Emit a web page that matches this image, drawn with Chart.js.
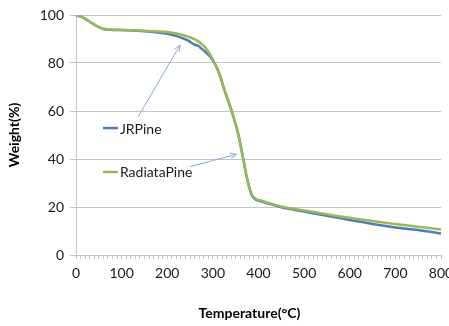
<!DOCTYPE html>
<html>
<head>
<meta charset="utf-8">
<title>TGA curves</title>
<script src="https://cdn.jsdelivr.net/npm/chart.js@4/dist/chart.umd.min.js"></script>
<style>
    html, body { margin: 0; padding: 0; background: #fff; }
    #wrap { position: relative; width: 449px; height: 326px; }
</style>
</head>
<body>
<div id="wrap"><canvas id="tgaChart" width="449" height="326"></canvas></div>
<script>
// ===== TGA weight loss: JR pine vs radiata pine =====

const temperatures = [0, 10, 20, 30, 40, 50, 60, 70, 80, 100, 125, 150, 175, 200, 215, 230, 245, 260, 268, 275,
    283, 294, 305, 315, 323, 332, 341, 349, 356, 365, 374, 380, 385, 390, 395, 405, 420, 450, 500, 550, 600, 650,
    700, 750, 800];

const jrPine = [100, 99.3, 98.4, 97.2, 96.0, 94.9, 94.2, 93.9, 93.8, 93.7, 93.5, 93.2, 92.8, 92.2, 91.5, 90.6, 89.4,
    87.6, 87.2, 86.0, 84.7, 82.6, 79.4, 75.0, 70.1, 65.0, 60.0, 55.0, 50.0, 41.5, 32.6, 28.0, 25.0, 23.7, 23.0, 22.4,
    21.5, 19.9, 18.1, 16.3, 14.6, 12.9, 11.5, 10.4, 9.0];

const radiataPine = [100, 99.4, 98.5, 97.3, 96.1, 95.0, 94.3, 94.0, 93.9, 93.8, 93.6, 93.4, 93.2, 92.9, 92.5, 91.9,
    91.0, 89.9, 89.0, 88.0, 86.5, 83.5, 79.6, 75.3, 70.3, 65.2, 60.2, 55.2, 50.2, 41.6, 32.8, 28.2, 25.3, 24.0, 23.3,
    22.7, 21.8, 20.2, 18.6, 17.0, 15.5, 14.2, 12.9, 11.8, 10.6];

const seriesNames = ['JRPine', 'RadiataPine'];
const seriesColors = ['#4a7ebb', '#98b954'];

const xTickLabels = [0, 100, 200, 300, 400, 500, 600, 700, 800];
const yTickLabels = [0, 20, 40, 60, 80, 100];

// Legend anchors and callout arrows, in data units (temperature, weight)
const legendAnchors = [[59, 52.9], [59, 34.6]];
const calloutArrows = [
    [[136, 57.5], [228, 87.5]],
    [[250, 36.8], [352, 42.0]]
];

const FONT = 'Lato, "Liberation Sans", sans-serif';
const GRID = '#c4c4c4';

function toPoints(xs, ys) {
    return xs.map((x, i) => ({ x: x, y: ys[i] }));
}

// Draws the in-plot legend, the callout arrows and both axis titles
const calloutPlugin = {
    id: 'callouts',
    afterDraw(chart) {
        const ctx = chart.ctx;
        const xs = chart.scales.x;
        const ys = chart.scales.y;
        const area = chart.chartArea;

        ctx.save();

        // arrows
        ctx.strokeStyle = '#86a8d8';
        ctx.lineWidth = 1;
        calloutArrows.forEach(([from, to]) => {
            const x1 = xs.getPixelForValue(from[0]);
            const y1 = ys.getPixelForValue(from[1]);
            const x2 = xs.getPixelForValue(to[0]);
            const y2 = ys.getPixelForValue(to[1]);
            const ang = Math.atan2(y2 - y1, x2 - x1);
            ctx.beginPath();
            ctx.moveTo(x1, y1);
            ctx.lineTo(x2, y2);
            ctx.moveTo(x2 - 7 * Math.cos(ang - 0.4), y2 - 7 * Math.sin(ang - 0.4));
            ctx.lineTo(x2, y2);
            ctx.lineTo(x2 - 7 * Math.cos(ang + 0.4), y2 - 7 * Math.sin(ang + 0.4));
            ctx.stroke();
        });

        // legend entries
        ctx.font = '14px ' + FONT;
        ctx.textBaseline = 'middle';
        ctx.textAlign = 'left';
        legendAnchors.forEach(([t, w], i) => {
            const x = xs.getPixelForValue(t);
            const y = ys.getPixelForValue(w);
            ctx.strokeStyle = seriesColors[i];
            ctx.lineWidth = 2.5;
            ctx.beginPath();
            ctx.moveTo(x, y);
            ctx.lineTo(x + 15, y);
            ctx.stroke();
            ctx.fillStyle = '#1a1a1a';
            ctx.fillText(seriesNames[i], x + 17, y + 1);
        });

        // axis titles
        ctx.font = 'bold 14px ' + FONT;
        ctx.fillStyle = '#000';
        ctx.textAlign = 'center';
        ctx.fillText('Temperature(°C)', (area.left + area.right) / 2 - 9, 313);
        ctx.translate(14, (area.top + area.bottom) / 2);
        ctx.rotate(-Math.PI / 2);
        ctx.fillText('Weight(%)', 0, 0);

        ctx.restore();
    }
};

const tgaChart = new Chart(document.getElementById('tgaChart'), {
    type: 'line',
    data: {
        datasets: [
            {
                label: seriesNames[0],
                data: toPoints(temperatures, jrPine),
                borderColor: seriesColors[0],
                borderWidth: 2.5,
                pointRadius: 0,
                cubicInterpolationMode: 'monotone',
                fill: false,
                order: 1
            },
            {
                // radiata pine is drawn over JR pine
                label: seriesNames[1],
                data: toPoints(temperatures, radiataPine),
                borderColor: seriesColors[1],
                borderWidth: 2.5,
                pointRadius: 0,
                cubicInterpolationMode: 'monotone',
                fill: false,
                order: 0
            }
        ]
    },
    options: {
        responsive: false,
        animation: false,
        events: [],
        layout: { padding: { left: 0, right: 8, top: 15, bottom: 0 } },
        plugins: {
            legend: { display: false },
            tooltip: { enabled: false }
        },
        scales: {
            x: {
                type: 'linear',
                min: 0,
                max: 800,
                afterFit(scale) {
                    scale.height = 71;
                    scale.paddingLeft = 0;
                    scale.paddingRight = 0;
                },
                grid: {
                    drawOnChartArea: false,
                    drawTicks: true,
                    tickLength: 4,
                    color: GRID
                },
                border: { color: GRID, width: 1 },
                ticks: {
                    stepSize: 10,
                    autoSkip: false,
                    maxRotation: 0,
                    padding: 6,
                    color: '#1a1a1a',
                    font: { family: FONT, size: 14 },
                    callback: (v) => xTickLabels.includes(v) ? String(v) : ''
                }
            },
            y: {
                min: 0,
                max: 100,
                afterFit(scale) {
                    scale.width = 76;
                },
                grid: {
                    color: GRID,
                    tickLength: 6
                },
                border: { color: GRID, width: 1 },
                ticks: {
                    stepSize: 20,
                    padding: 6,
                    color: '#1a1a1a',
                    font: { family: FONT, size: 14 },
                    callback: (v) => yTickLabels.includes(v) ? String(v) : ''
                }
            }
        }
    },
    plugins: [calloutPlugin]
});
</script>
</body>
</html>
